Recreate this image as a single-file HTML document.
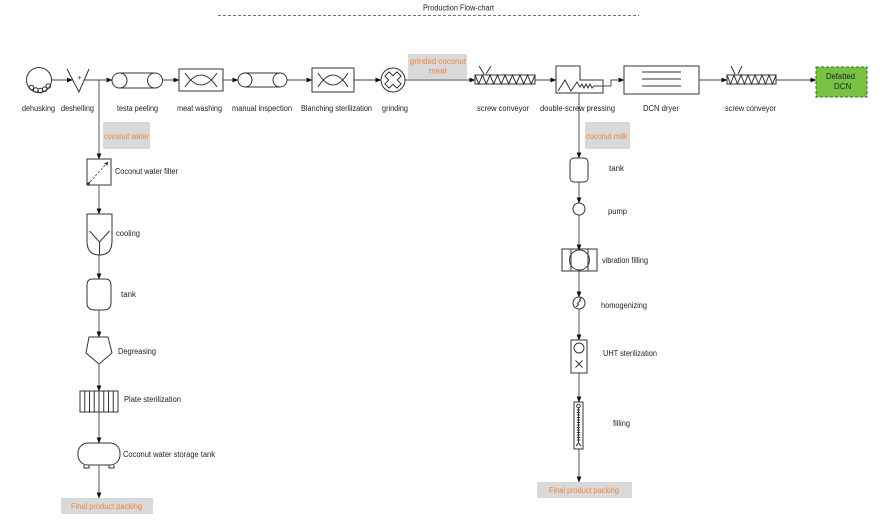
<!DOCTYPE html>
<html><head><meta charset="utf-8"><style>
html,body{margin:0;padding:0;background:#fff;}
svg{display:block;}
text{font-family:"Liberation Sans",sans-serif;font-size:8px;fill:#222;}
.o{fill:#ee8537;}
.s{fill:none;stroke:#333;stroke-width:1;}
.c{fill:none;stroke:#444;stroke-width:0.9;}
</style></head><body>
<svg width="880" height="527" viewBox="0 0 880 527" xmlns="http://www.w3.org/2000/svg">
<defs>
<marker id="a" markerUnits="userSpaceOnUse" markerWidth="6" markerHeight="6" refX="5.5" refY="3" orient="auto">
<path d="M0,0.6 L6,3 L0,5.4 Z" fill="#111"/>
</marker>
<marker id="b" markerUnits="userSpaceOnUse" markerWidth="4" markerHeight="4" refX="3.5" refY="2" orient="auto">
<path d="M0,0 L4,2 L0,4 Z" fill="#333"/>
</marker>
</defs>

<!-- title -->
<text x="423" y="10.5" textLength="71" lengthAdjust="spacingAndGlyphs">Production Flow-chart</text>
<line x1="218" y1="15.5" x2="639" y2="15.5" stroke="#444" stroke-width="0.8" stroke-dasharray="3,2"/>

<!-- dehusking -->
<circle cx="39" cy="80" r="12.5" class="s"/>
<g class="s" stroke-width="0.75">
<circle cx="31.5" cy="87.5" r="2.3"/><circle cx="35.8" cy="90" r="2.3"/><circle cx="40.3" cy="90.6" r="2.3"/><circle cx="44.7" cy="89.2" r="2.3"/><circle cx="48.3" cy="86" r="2.3"/>
</g>
<!-- deshelling -->
<polyline points="67,69 79,92 89,69" class="s"/>
<text x="77.5" y="80" style="font-size:7px">+</text>
<!-- testa peeling tube -->
<g class="s">
<line x1="119.5" y1="73" x2="155" y2="73"/><line x1="119.5" y1="88" x2="155" y2="88"/>
<circle cx="119.5" cy="80.5" r="7.5" fill="#fff"/><circle cx="155" cy="80.5" r="7.5" fill="#fff"/>
</g>
<!-- meat washing -->
<rect x="179" y="69" width="44" height="22" class="s"/>
<path d="M185,73 Q201,97 217,73 M185,87 Q201,63 217,87" class="s" stroke-width="0.9"/>
<!-- manual inspection tube -->
<g class="s">
<line x1="245" y1="73" x2="280" y2="73"/><line x1="245" y1="87" x2="280" y2="87"/>
<circle cx="245" cy="80" r="7" fill="#fff"/><circle cx="280" cy="80" r="7" fill="#fff"/>
</g>
<!-- blanching -->
<rect x="312" y="68" width="42" height="24" class="s"/>
<path d="M318,73 Q333,97 348,73 M318,87 Q333,63 348,87" class="s" stroke-width="0.9"/>
<!-- grinding -->
<circle cx="393" cy="80" r="12" class="s"/>
<g transform="translate(393,80) rotate(45)">
<path d="M-3,-8.5 L3,-8.5 L3,-3 L8.5,-3 L8.5,3 L3,3 L3,8.5 L-3,8.5 L-3,3 L-8.5,3 L-8.5,-3 L-3,-3 Z" class="s" stroke-linejoin="round" stroke-width="0.9"/>
</g>
<!-- grinded coconut meat label -->
<rect x="408" y="54" width="59" height="25" fill="#d9d9d9"/>
<text x="410" y="64" class="o" textLength="56" lengthAdjust="spacingAndGlyphs">grinded coconut</text>
<text x="429" y="73.5" class="o">meat</text>
<!-- screw conveyor 1 -->
<rect x="475" y="75" width="60" height="9" class="s"/>
<polyline class="s" stroke-width="0.75" points="475,75 478.75,84 482.5,75 486.25,84 490,75 493.75,84 497.5,75 501.25,84 505,75 508.75,84 512.5,75 516.25,84 520,75 523.75,84 527.5,75 531.25,84 535,75"/>
<path d="M479,66 L484,74 M491,66 L486,74" class="s" stroke-width="0.75"/>
<!-- double-screw pressing -->
<path d="M556,66 L580,66 L580,80 L603,80 L603,93 L556,93 Z" class="s"/>
<polyline class="s" stroke-width="0.75" points="558,91 565,80 571,91 577,82 580,87 582,84 584,88 586,84 588,88 590,84 592,88 594,86 598,86"/>
<!-- DCN dryer -->
<rect x="624" y="66" width="75" height="28" class="s"/>
<path d="M642,72 L681,72 M642,79 L681,79 M642,86 L681,86" class="s" stroke-width="0.9"/>
<!-- screw conveyor 2 -->
<rect x="727" y="75" width="49" height="9" class="s"/>
<polyline class="s" stroke-width="0.75" points="727,75 730.5,84 734,75 737.5,84 741,75 744.5,84 748,75 751.5,84 755,75 758.5,84 762,75 765.5,84 769,75 772.5,84 776,75"/>
<path d="M731,66 L735,74 M742,66 L738,74" class="s" stroke-width="0.75"/>
<!-- defatted DCN -->
<rect x="816" y="67" width="51" height="30" fill="#79c143" stroke="#3b6b22" stroke-width="1" stroke-dasharray="3,2"/>
<text x="826" y="79" textLength="29" lengthAdjust="spacingAndGlyphs">Defatted</text>
<text x="834" y="89">DCN</text>

<!-- top connectors -->
<g class="c">
<line x1="51.5" y1="80" x2="72.5" y2="80" marker-end="url(#a)"/>
<line x1="84" y1="80" x2="112" y2="80" marker-end="url(#a)"/>
<line x1="162.5" y1="80" x2="179" y2="80" marker-end="url(#a)"/>
<line x1="223" y1="80" x2="238" y2="80" marker-end="url(#a)"/>
<line x1="287" y1="80" x2="312" y2="80" marker-end="url(#a)"/>
<line x1="354" y1="80" x2="381" y2="80" marker-end="url(#a)"/>
<line x1="405" y1="80" x2="475" y2="80" marker-end="url(#a)"/>
<line x1="535" y1="80" x2="556" y2="80" marker-end="url(#a)"/>
<polyline points="598,86 611,86 611,80 624,80" marker-end="url(#a)"/>
<line x1="699" y1="80" x2="727" y2="80" marker-end="url(#a)"/>
<line x1="776" y1="80" x2="816" y2="80" marker-end="url(#a)"/>
</g>

<!-- top labels -->
<text x="22" y="111" textLength="33" lengthAdjust="spacingAndGlyphs">dehusking</text>
<text x="61" y="111" textLength="33" lengthAdjust="spacingAndGlyphs">deshelling</text>
<text x="117" y="111" textLength="41" lengthAdjust="spacingAndGlyphs">testa peeling</text>
<text x="177" y="111" textLength="45" lengthAdjust="spacingAndGlyphs">meat washing</text>
<text x="232" y="111" textLength="60" lengthAdjust="spacingAndGlyphs">manual inspection</text>
<text x="301" y="111" textLength="71" lengthAdjust="spacingAndGlyphs">Blanching sterilization</text>
<text x="382" y="111" textLength="26" lengthAdjust="spacingAndGlyphs">grinding</text>
<text x="477" y="111" textLength="52" lengthAdjust="spacingAndGlyphs">screw conveyor</text>
<text x="540" y="111" textLength="75" lengthAdjust="spacingAndGlyphs">double-screw pressing</text>
<text x="643" y="111" textLength="36" lengthAdjust="spacingAndGlyphs">DCN dryer</text>
<text x="725" y="111" textLength="51" lengthAdjust="spacingAndGlyphs">screw conveyor</text>

<!-- LEFT COLUMN -->
<rect x="103" y="122" width="47" height="27" fill="#d9d9d9"/>
<text x="104" y="139" class="o" textLength="45" lengthAdjust="spacingAndGlyphs">coconut water</text>
<rect x="87" y="159" width="24" height="26" class="s"/>
<line x1="90" y1="182" x2="108" y2="162" stroke="#333" stroke-width="0.75" stroke-dasharray="2.5,1.5" marker-end="url(#b)" marker-start="url(#b)"/>
<text x="115" y="174" textLength="63" lengthAdjust="spacingAndGlyphs">Coconut water filter</text>
<path d="M87,214 L112,214 L112,241 Q112,255 99.5,255 Q87,255 87,241 Z" class="s"/>
<path d="M89.5,231 L99.5,242 L109.5,231 M99.5,242 L99.5,255" class="s" stroke-width="0.9"/>
<text x="116" y="236" textLength="24" lengthAdjust="spacingAndGlyphs">cooling</text>
<path d="M87,285 Q87,279 93,279 L105,279 Q111,279 111,285 L111,303 Q111,310 103,310 L95,310 Q87,310 87,303 Z" class="s"/>
<text x="121" y="297" textLength="15" lengthAdjust="spacingAndGlyphs">tank</text>
<polygon points="89,337 108,337 112,353 99,364 86,353" class="s"/>
<text x="118" y="354" textLength="38" lengthAdjust="spacingAndGlyphs">Degreasing</text>
<rect x="80" y="391" width="38" height="21" class="s"/>
<path d="M84.75,391v21 M89.5,391v21 M94.25,391v21 M99,391v21 M103.75,391v21 M108.5,391v21 M113.25,391v21" class="s" stroke-width="0.75"/>
<text x="124" y="402" textLength="57" lengthAdjust="spacingAndGlyphs">Plate sterilization</text>
<rect x="78" y="443" width="42" height="22" rx="10" ry="10" class="s"/>
<path d="M84,465 L84,468 L89,468 L89,465 M109,465 L109,468 L114,468 L114,465" class="s" stroke-width="0.75"/>
<text x="123" y="457" textLength="92" lengthAdjust="spacingAndGlyphs">Coconut water storage tank</text>
<rect x="61" y="498" width="92" height="16" fill="#d9d9d9"/>
<text x="71" y="509" class="o" textLength="71" lengthAdjust="spacingAndGlyphs">Final product packing</text>

<g class="c">
<line x1="99" y1="80" x2="99" y2="159" marker-end="url(#a)"/>
<line x1="99" y1="185" x2="99" y2="214" marker-end="url(#a)"/>
<line x1="99" y1="255" x2="99" y2="279" marker-end="url(#a)"/>
<line x1="99" y1="310" x2="99" y2="337" marker-end="url(#a)"/>
<line x1="99" y1="364" x2="99" y2="391" marker-end="url(#a)"/>
<line x1="99" y1="412" x2="99" y2="443" marker-end="url(#a)"/>
<line x1="99" y1="465" x2="99" y2="498" marker-end="url(#a)"/>
</g>

<!-- RIGHT COLUMN -->
<rect x="585" y="122" width="45" height="27" fill="#d9d9d9"/>
<text x="586" y="139" class="o" textLength="41" lengthAdjust="spacingAndGlyphs">coconut milk</text>
<rect x="570" y="158" width="18" height="24" rx="4" ry="4" class="s"/>
<text x="609" y="171" textLength="15" lengthAdjust="spacingAndGlyphs">tank</text>
<circle cx="579" cy="209" r="6" class="s"/>
<text x="608" y="214" textLength="19" lengthAdjust="spacingAndGlyphs">pump</text>
<rect x="562" y="249" width="35" height="22" class="s"/>
<path d="M571,249v22 M588,249v22" class="s" stroke-width="0.9"/>
<circle cx="579.5" cy="260" r="10" class="s" fill="#fff"/>
<text x="602" y="263" textLength="46" lengthAdjust="spacingAndGlyphs">vibration filling</text>
<circle cx="579" cy="303" r="6" class="s"/>
<path d="M576,307 L578.5,304.5 L577.5,303.5 L580.5,300.5 L579.5,299.5 L582,297" class="s" stroke-width="0.75"/>
<text x="601" y="308" textLength="46" lengthAdjust="spacingAndGlyphs">homogenizing</text>
<rect x="571" y="340" width="16" height="33" class="s"/>
<circle cx="579" cy="348" r="5" class="s"/>
<path d="M575.5,360.5 L582.5,367.5 M582.5,360.5 L575.5,367.5" class="s" stroke-width="0.9"/>
<text x="603" y="356" textLength="54" lengthAdjust="spacingAndGlyphs">UHT sterilization</text>
<rect x="574" y="402" width="9" height="47" class="s"/>
<circle cx="578.5" cy="406" r="1.8" class="s" stroke-width="0.6"/>
<path d="M578.5,408 L578.5,443 M576.8,410h3.4 M576.8,412.5h3.4 M576.8,415h3.4 M576.8,417.5h3.4 M576.8,420h3.4 M576.8,422.5h3.4 M576.8,425h3.4 M576.8,427.5h3.4 M576.8,430h3.4 M576.8,432.5h3.4 M576.8,435h3.4 M576.8,437.5h3.4 M576.8,440h3.4 M576,446 L578.5,443 L581,446" class="s" stroke-width="0.6"/>
<text x="613" y="426" textLength="17" lengthAdjust="spacingAndGlyphs">filling</text>
<rect x="537" y="482" width="95" height="16" fill="#d9d9d9"/>
<text x="549" y="493" class="o" textLength="70" lengthAdjust="spacingAndGlyphs">Final product packing</text>

<g class="c">
<line x1="579" y1="93" x2="579" y2="158" marker-end="url(#a)"/>
<line x1="579" y1="182" x2="579" y2="203" marker-end="url(#a)"/>
<line x1="579" y1="215" x2="579" y2="250" marker-end="url(#a)"/>
<line x1="579" y1="271" x2="579" y2="297" marker-end="url(#a)"/>
<line x1="579" y1="309" x2="579" y2="340" marker-end="url(#a)"/>
<line x1="579" y1="373" x2="579" y2="402" marker-end="url(#a)"/>
<line x1="579" y1="449" x2="579" y2="482" marker-end="url(#a)"/>
</g>
</svg>
</body></html>
